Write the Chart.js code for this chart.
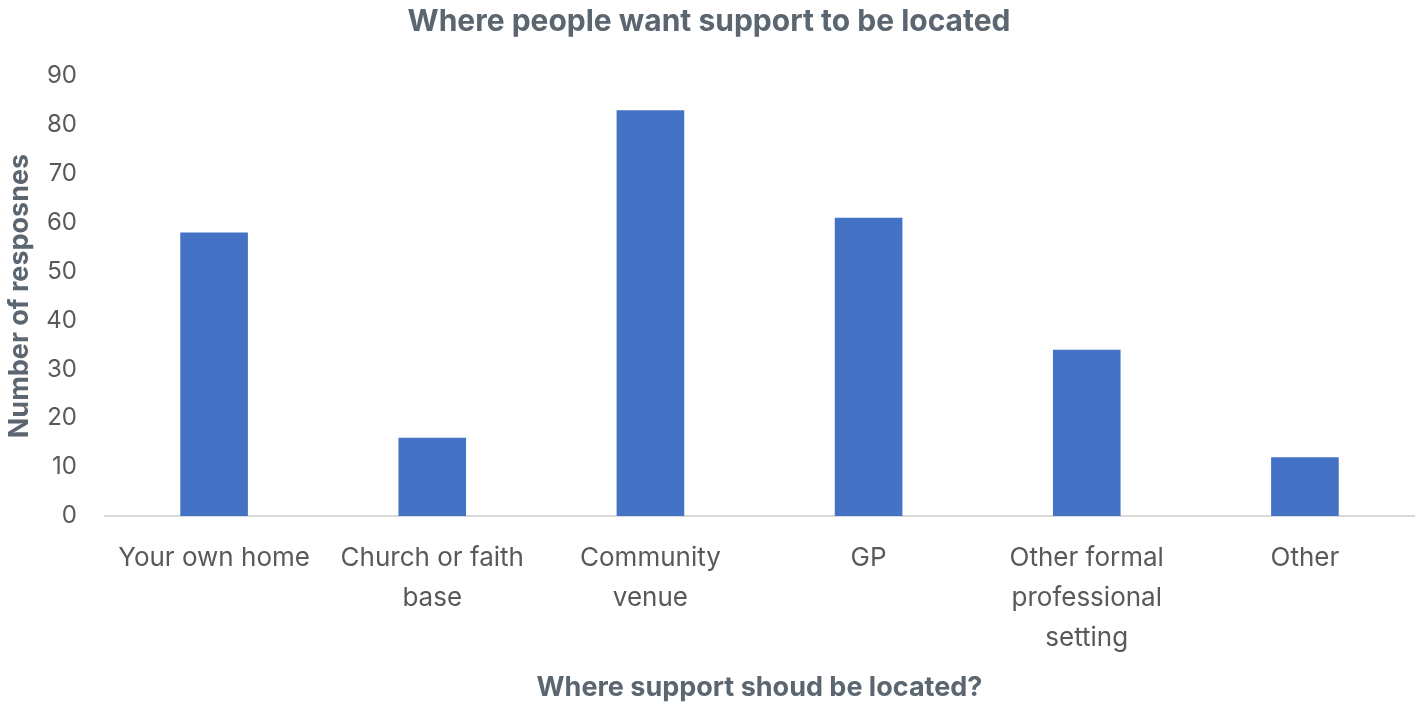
<!DOCTYPE html>
<html>
<head>
<meta charset="utf-8">
<script src="https://cdn.jsdelivr.net/npm/chart.js@4.4.1/dist/chart.umd.min.js"></script>
<style>
html,body{margin:0;padding:0;background:#fff;}
#wrap{width:1420px;height:704px;position:relative;}
</style>
</head>
<body>
<div id="wrap"><canvas id="c" width="1420" height="704"></canvas></div>
<script>
const categories = [
  "Your own home",
  ["Church or faith", "base"],
  ["Community", "venue"],
  "GP",
  ["Other formal", "professional", "setting"],
  "Other"
];
const responses = [58, 16, 83, 61, 34, 12];
const yTicks = [0, 10, 20, 30, 40, 50, 60, 70, 80, 90];

const FONT = "Inter, 'Open Sans', sans-serif";
const TITLE_COLOR = '#5b6670';
const TICK_COLOR = '#595959';

new Chart(document.getElementById('c'), {
  type: 'bar',
  data: {
    labels: categories,
    datasets: [{
      label: 'Number of resposnes',
      data: responses,
      backgroundColor: '#4472C4',
      barPercentage: 0.31,
      categoryPercentage: 1.0
    }]
  },
  options: {
    responsive: false,
    animation: false,
    devicePixelRatio: 1,
    layout: { padding: { left: 4, right: 6, top: 0, bottom: 0 } },
    plugins: {
      legend: { display: false },
      tooltip: { enabled: false },
      title: {
        display: true,
        text: 'Where people want support to be located',
        color: TITLE_COLOR,
        font: { family: FONT, size: 30, weight: 'bold' },
        padding: { top: 4, bottom: 36 }
      }
    },
    scales: {
      x: {
        grid: { display: false, drawTicks: false },
        border: { display: true, color: '#d9d9d9', width: 2 },
        afterFit: (scale) => { scale.height = 188; },
        ticks: {
          color: TICK_COLOR,
          font: { family: FONT, size: 26, lineHeight: 1.54 },
          maxRotation: 0,
          autoSkip: false,
          padding: 22
        },
        title: {
          display: true,
          text: 'Where support shoud be located?',
          color: TITLE_COLOR,
          font: { family: FONT, size: 27, weight: 'bold' },
          padding: { top: 13, bottom: 0 }
        }
      },
      y: {
        min: 0,
        max: 90,
        grid: { display: false, drawTicks: false },
        border: { display: false },
        afterBuildTicks: (scale) => { scale.ticks = yTicks.map(v => ({ value: v })); },
        afterFit: (scale) => { scale.width = 101; },
        ticks: {
          color: TICK_COLOR,
          font: { family: FONT, size: 24 },
          padding: 28
        },
        title: {
          display: true,
          text: 'Number of resposnes',
          color: TITLE_COLOR,
          font: { family: FONT, size: 27, weight: 'bold' },
          padding: { top: 0, bottom: 0 }
        }
      }
    }
  }
});
</script>
</body>
</html>
